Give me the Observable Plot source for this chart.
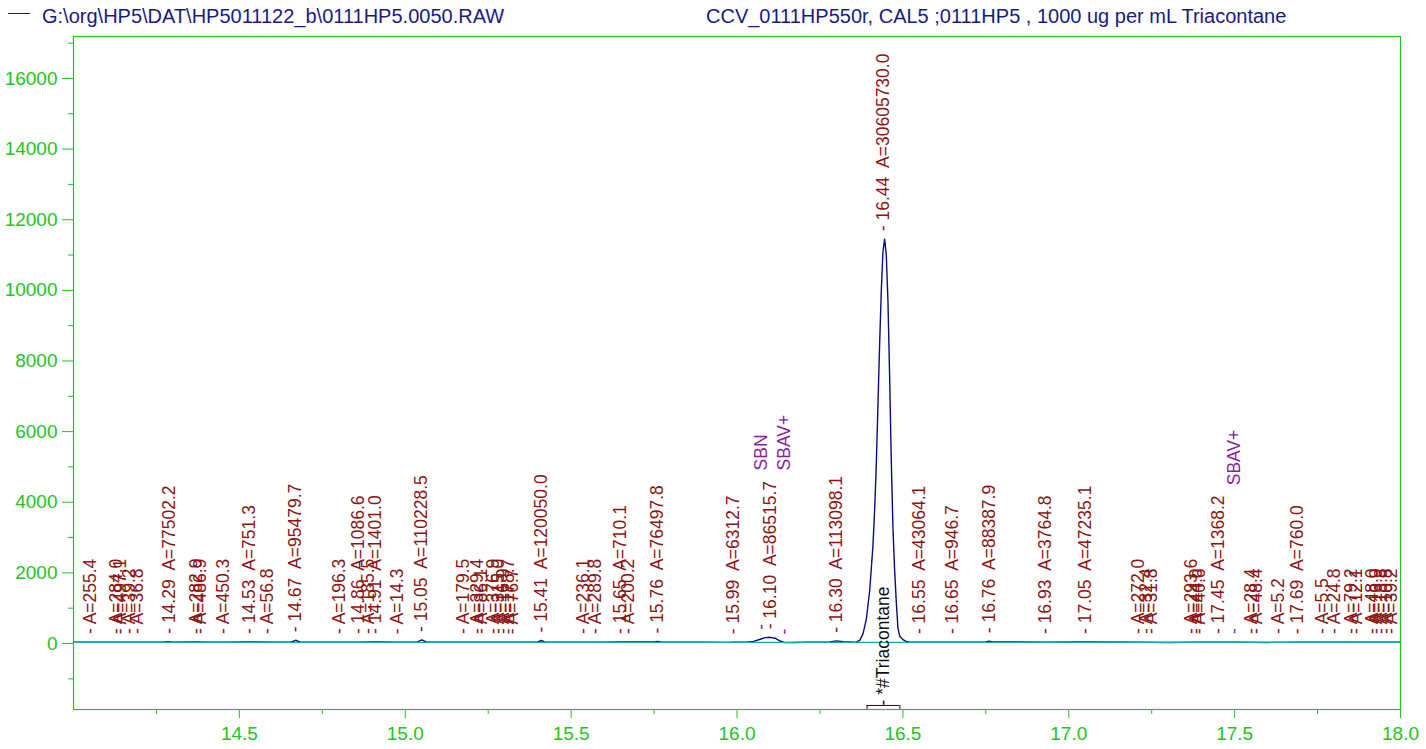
<!DOCTYPE html>
<html><head><meta charset="utf-8">
<script src="https://cdn.jsdelivr.net/npm/d3@7"></script>
<script src="https://cdn.jsdelivr.net/npm/@observablehq/plot@0.6"></script>
<style>
body{margin:0;background:#fff;font-family:"Liberation Sans",Arial,sans-serif;}
#hdr{position:relative;width:1426px;height:30px;}
#hdr .t{position:absolute;top:6px;font-size:20px;line-height:20px;color:#1b1b7e;white-space:pre;}
#hdr .dash{position:absolute;left:8px;top:13px;width:22px;height:1px;background:#1b1b7e;}
svg text{white-space:pre;}
</style></head><body>
<div id="hdr"><div class="dash"></div><span class="t" id="h1" style="left:42px"></span><span class="t" id="h2" style="left:706px"></span></div>
<div id="chart"></div>
<script>
// Header texts
const fileName = "G:\\org\\HP5\\DAT\\HP5011122_b\\0111HP5.0050.RAW";
const sampleName = "CCV_0111HP550r, CAL5 ;0111HP5 , 1000 ug per mL Triacontane";

// Chromatogram trace (retention time in min, signal)
const traceTime = [14.00,14.05,14.10,14.13,14.15,14.20,14.27,14.285,14.30,14.37,14.40,14.45,14.53,14.60,14.655,14.665,14.670,14.675,14.685,14.75,14.86,14.91,14.97,15.035,15.045,15.05,15.055,15.065,15.15,15.25,15.32,15.40,15.41,15.42,15.50,15.60,15.65,15.75,15.76,15.77,15.90,15.97,15.99,16.03,16.05,16.07,16.085,16.10,16.115,16.13,16.145,16.17,16.22,16.28,16.30,16.32,16.35,
  16.36,16.37,16.38,16.39,16.40,16.41,16.415,16.42,16.425,16.43,16.435,16.44,16.445,16.45,16.455,16.46,16.465,16.47,16.475,16.48,16.485,16.49,16.50,16.51,16.52,
  16.55,16.65,16.75,16.76,16.77,16.93,17.05,17.20,17.30,17.40,17.50,17.60,17.70,17.80,17.90,18.00];
const traceSignal = [38,40,38,40,37,39,36,48,38,42,38,40,42,38,40,70,95,70,40,38,40,42,38,40,80,100,80,40,38,40,38,45,85,45,38,40,42,42,55,42,36,32,38,36,60,120,165,175,150,70,25,30,36,45,75,50,35,
  45,90,280,700,1500,2800,3800,5100,6800,8500,10000,11100,11450,11000,9700,7600,5200,3300,2100,1200,450,220,110,60,45,
  40,40,45,65,45,40,42,40,30,38,40,30,38,40,38,40];

// Integration baseline
const baseTime = [14.00, 18.00];
const baseSignal = [30, 30];

// Peak annotations
const labelTime = [14.051,14.130,14.142,14.169,14.193,14.29,14.370,14.383,14.452,14.53,14.584,14.67,14.801,14.86,14.889,14.91,14.976,15.05,
  15.175,15.217,15.229,15.265,15.280,15.295,15.310,15.322,15.41,15.536,15.572,15.65,15.672,15.76,15.99,16.10,16.30,16.44,16.55,16.65,16.76,16.93,17.05,
  17.211,17.235,17.250,17.370,17.386,17.395,17.45,17.551,17.566,17.633,17.69,17.765,17.801,17.852,17.867,17.916,17.928,17.943,17.958,17.973];
const labelText = ["- A=255.4","- A=284.0","- A=497.1","- A=39.2","- A=36.8","- 14.29  A=77502.2","- A=282.9","- A=486.9","- A=450.3","- 14.53  A=751.3","- A=56.8","- 14.67  A=95479.7","- A=196.3","- 14.86  A=1086.6","- A=185.5","- 14.91  A=1401.0","- A=14.3","- 15.05  A=110228.5",
  "- A=179.5","- A=329.4","- A=86.1","- A=376.9","- A=315.0","- A=16.9","- A=178.7","- A=76.7","- 15.41  A=120050.0","- A=236.1","- A=289.8","- 15.65  A=710.1","- A=200.2","- 15.76  A=76497.8","- 15.99  A=6312.7","- 16.10  A=86515.7","- 16.30  A=113098.1","- 16.44  A=30605730.0","- 16.55  A=43064.1","- 16.65  A=946.7","- 16.76  A=88387.9","- 16.93  A=3764.8","- 17.05  A=47235.1",
  "- A=272.0","- A=32.4","- A=31.8","- A=293.6","- A=44.0","- A=40.6","- 17.45  A=1368.2","- A=28.4","- A=48.4","- A=5.2","- 17.69  A=760.0","- A=5.5","- A=24.8","- A=79.2","- A=12.1","- A=48.0","- A=13.9","- A=18.8","- A=10.8","- A=39.2"];

// Baseline events
const eventTime = [16.075, 16.142, 17.50];
const eventText = ["SBN", "SBAV+", "SBAV+"];
const eventLevel = [4900, 4900, 4480];

// Named compound and integration window
const compoundTime = 16.44;
const compoundText = "- *#Triacontane";
const windowStart = 16.392, windowEnd = 16.491;

// Axes
const xDomain = [14.0, 18.0];
const yDomain = [-1869, 17189];
const xMajor = [14.5,15.0,15.5,16.0,16.5,17.0,17.5,18.0];
const xMinor = [14.25,14.75,15.25,15.75,16.25,16.75,17.25,17.75];
const yMajor = [0,2000,4000,6000,8000,10000,12000,14000,16000];
const yMinor = [-1000,1000,3000,5000,7000,9000,11000,13000,15000,17000];

document.getElementById("h1").textContent = fileName;
document.getElementById("h2").textContent = sampleName;

const trace = traceTime.map((t, i) => ({t, v: traceSignal[i]}));
const base = baseTime.map((t, i) => ({t, v: baseSignal[i]}));
const peakAt = t => d3.max(trace.filter(d => Math.abs(d.t - t) <= 0.0101), d => d.v) ?? 40;
const labels = labelTime.map((t, i) => ({t, text: labelText[i], h: peakAt(t)}));
const events = eventTime.map((t, i) => ({t, text: eventText[i], lvl: eventLevel[i], h: peakAt(t)}));

const green = "#22c422", red = "#8c1414", purple = "#8a1e9c", navy = "#0c0c7c", teal = "#1fa3b8";
const bump = (yDomain[1] - yDomain[0]) * 0.006;

const chart = Plot.plot({
  width: 1426, height: 719,
  marginTop: 6, marginBottom: 40, marginLeft: 73, marginRight: 26,
  style: {fontFamily: "'Liberation Sans', Arial, sans-serif", background: "#fff"},
  x: {domain: xDomain, axis: null, label: null},
  y: {domain: yDomain, axis: null, label: null},
  marks: [
    Plot.line(trace, {x: "t", y: "v", stroke: navy, strokeWidth: 1.4}),
    Plot.line(base, {x: "t", y: "v", stroke: teal, strokeWidth: 1.2}),
    Plot.text(labels, {x: "t", y: "h", text: "text", rotate: -90, textAnchor: "start", lineAnchor: "middle", dy: -8, fill: red, fontSize: 17.5}),
    Plot.text(events, {x: "t", y: "h", text: () => "-", rotate: -90, textAnchor: "start", lineAnchor: "middle", dy: -8, fill: purple, fontSize: 17.5}),
    Plot.text(events, {x: "t", y: "lvl", text: "text", rotate: -90, textAnchor: "start", lineAnchor: "middle", fill: purple, fontSize: 17.5}),
    Plot.text([compoundText], {x: [compoundTime], frameAnchor: "bottom", text: d => d, rotate: -90, textAnchor: "start", lineAnchor: "middle", dy: -4, fill: "#111", fontSize: 17.5}),
    Plot.ruleX([windowStart, windowEnd], {y1: yDomain[0], y2: yDomain[0] + bump, stroke: "#111", strokeWidth: 1}),
    Plot.ruleY([yDomain[0] + bump], {x1: windowStart, x2: windowEnd, stroke: "#111", strokeWidth: 1}),
    Plot.frame({stroke: green, strokeWidth: 1.2}),
    Plot.axisY(yMajor, {tickSize: 11, tickPadding: 5, fontSize: 19, stroke: green, fill: green, color: green, label: null, tickFormat: d => String(d)}),
    Plot.axisY(yMinor, {tickSize: 5, fontSize: 19, stroke: green, color: green, label: null, tickFormat: () => ""}),
    Plot.axisX(xMajor, {tickSize: 9, tickPadding: 8, fontSize: 19, stroke: green, fill: green, color: green, label: null, tickFormat: d3.format(".1f")}),
    Plot.axisX(xMinor, {tickSize: 5, stroke: green, color: green, label: null, tickFormat: () => ""})
  ]
});
document.getElementById("chart").appendChild(chart);
</script>
</body></html>
